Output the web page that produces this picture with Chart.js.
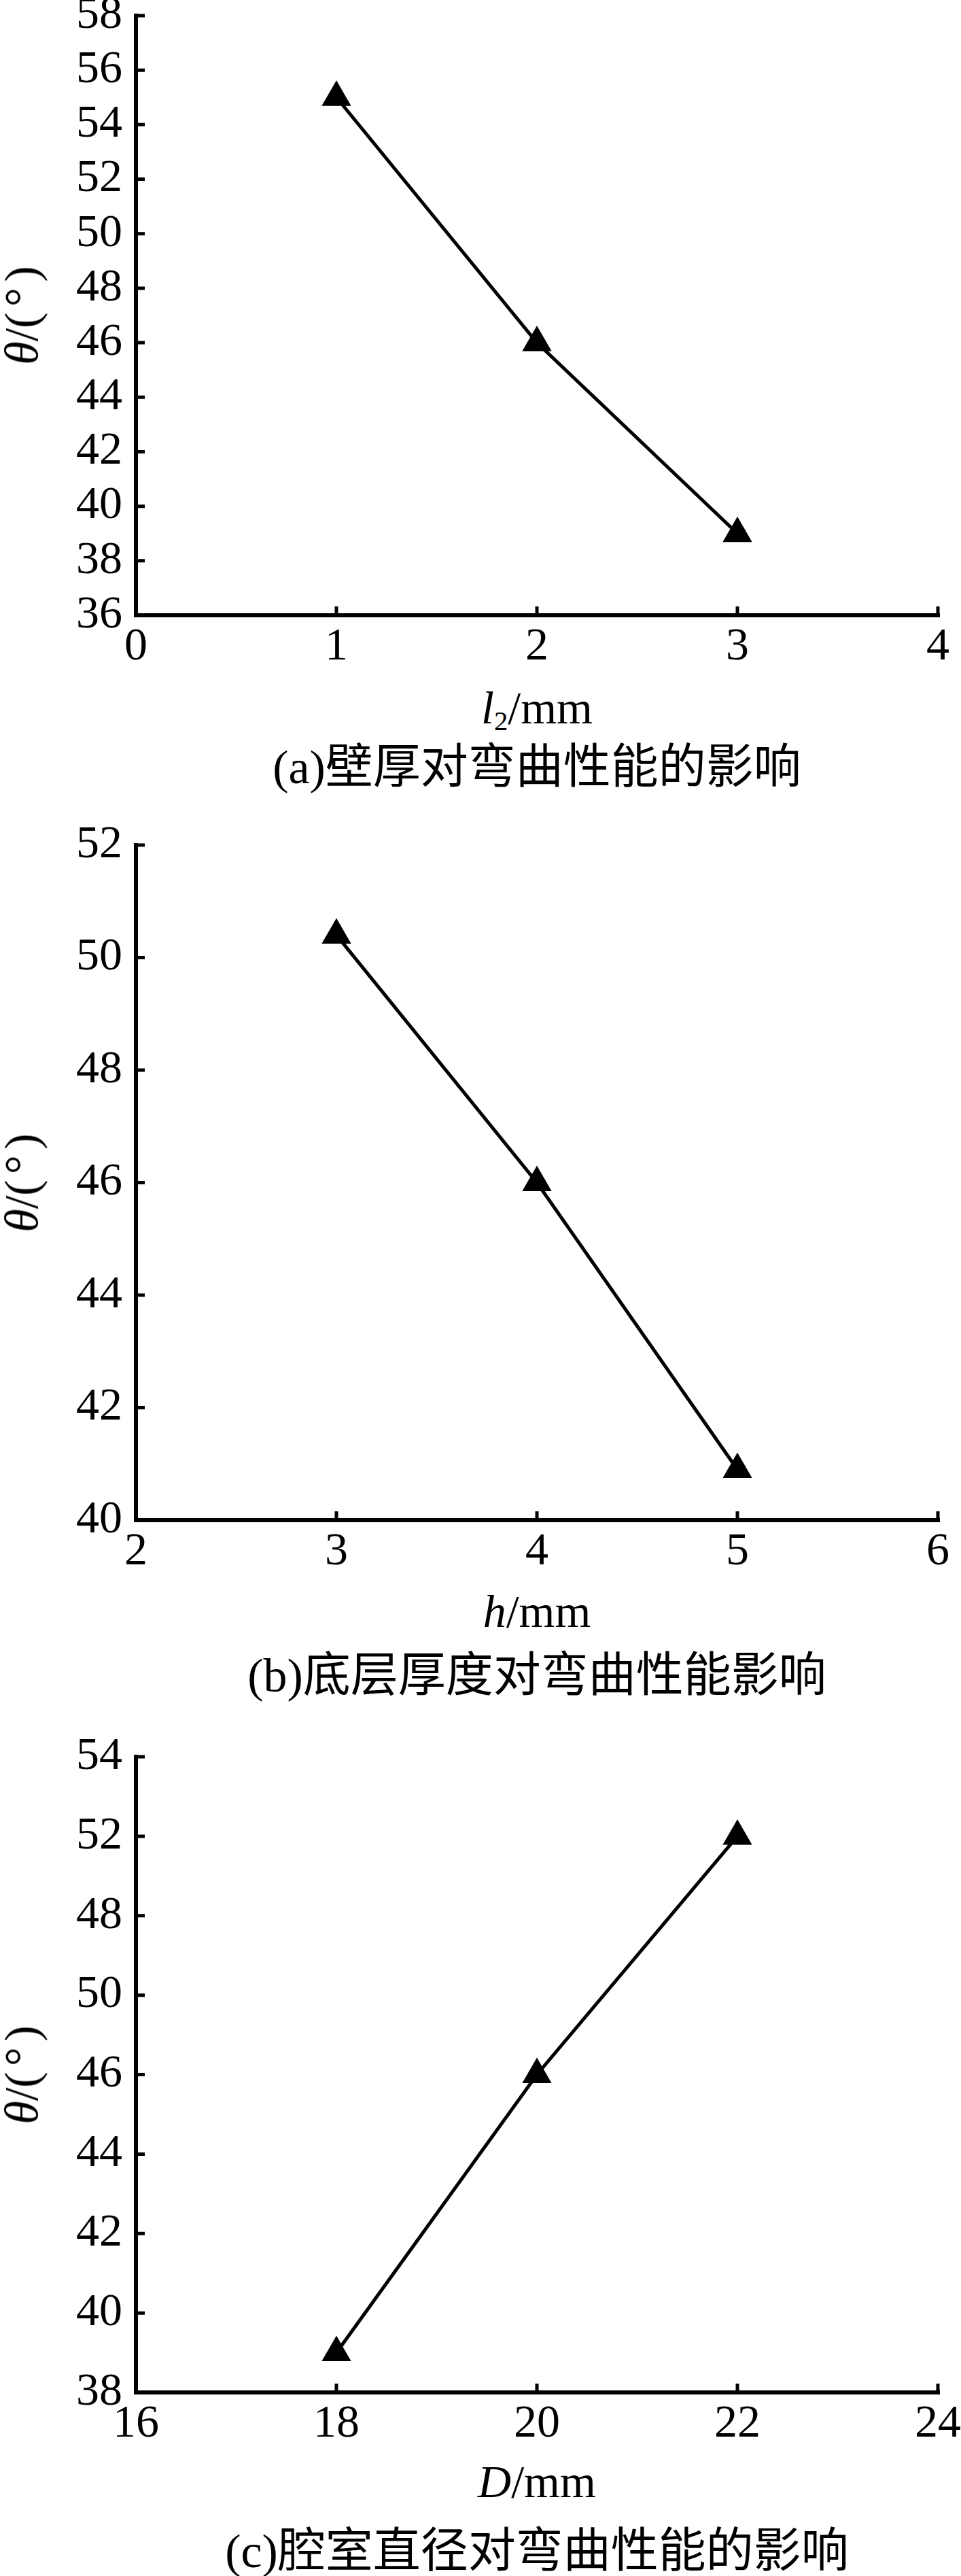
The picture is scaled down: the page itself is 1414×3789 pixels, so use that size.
<!DOCTYPE html>
<html>
<head>
<meta charset="utf-8">
<script src="https://cdn.jsdelivr.net/npm/chart.js@4.4.1/dist/chart.umd.min.js"></script>
<style>
  html, body { margin: 0; padding: 0; background: #fff; }
  body { position: relative; width: 1414px; height: 3789px; overflow: hidden; }
  canvas { position: absolute; left: 0; }
  .t { position: absolute; transform: translate(-50%, -50%); white-space: nowrap;
       font-family: "Liberation Serif", "Times New Roman", serif; font-size: 68px; color: #000; line-height: 1; }
  .cap { font-size: 70px; font-family: "Liberation Serif", "Noto Sans CJK SC", serif; }
  .ylab { transform: translate(-50%, -50%) rotate(-90deg); font-size: 70px; }
  .deg { padding: 0 0.12em; }
  i { font-style: italic; }
  sub { font-size: 0.6em; vertical-align: -0.25em; }
</style>
</head>
<body>
<canvas id="chartA" width="1414" height="1027" style="top:-27px"></canvas>
<canvas id="chartB" width="1414" height="1138" style="top:1193px"></canvas>
<canvas id="chartC" width="1414" height="1080" style="top:2534px"></canvas>

<div class="t ylab" style="left:32px; top:464px"><i>θ</i>/(<span class="deg">°</span>)</div>
<div class="t" style="left:790px; top:1044px"><i>l</i><sub>2</sub>/mm</div>
<div class="t cap" style="left:790px; top:1129px">(a)壁厚对弯曲性能的影响</div>

<div class="t ylab" style="left:32px; top:1740px"><i>θ</i>/(<span class="deg">°</span>)</div>
<div class="t" style="left:790px; top:2370px"><i>h</i>/mm</div>
<div class="t cap" style="left:790px; top:2465px">(b)底层厚度对弯曲性能影响</div>

<div class="t ylab" style="left:32px; top:3052px"><i>θ</i>/(<span class="deg">°</span>)</div>
<div class="t" style="left:790px; top:3650px"><i>D</i>/mm</div>
<div class="t cap" style="left:790px; top:3753px">(c)腔室直径对弯曲性能的影响</div>

<script>
// (a) wall thickness
const wallThickness = [1, 2, 3];
const thetaWall = [55, 46, 39];
const yTicksA = ['36', '38', '40', '42', '44', '46', '48', '50', '52', '54', '56', '58'];
const xTicksA = ['0', '1', '2', '3', '4'];

// (b) bottom layer thickness
const bottomThickness = [3, 4, 5];
const thetaBottom = [50.4, 46, 40.9];
const yTicksB = ['40', '42', '44', '46', '48', '50', '52'];
const xTicksB = ['2', '3', '4', '5', '6'];

// (c) chamber diameter (tick labels as printed, 48/50 swapped)
const chamberDiameter = [18, 20, 22];
const thetaChamber = [39, 46, 52];
const yTicksC = ['38', '40', '42', '44', '46', '50', '48', '52', '54'];
const xTicksC = ['16', '18', '20', '22', '24'];

const tickFont = { family: "Liberation Serif", size: 68 };

// axes drawn with ticks pointing inward
const innerAxes = {
  id: 'innerAxes',
  beforeDatasetsDraw(chart) {
    const { ctx, chartArea: a, scales: { x, y } } = chart;
    ctx.save();
    ctx.strokeStyle = '#000';
    ctx.lineWidth = 6;
    ctx.lineCap = 'square';
    ctx.beginPath();
    ctx.moveTo(a.left, a.top);
    ctx.lineTo(a.left, a.bottom);
    ctx.lineTo(a.right, a.bottom);
    ctx.stroke();
    ctx.lineCap = 'butt';
    ctx.lineWidth = 5;
    ctx.beginPath();
    y.ticks.forEach(t => {
      const py = y.getPixelForValue(t.value);
      ctx.moveTo(a.left, py);
      ctx.lineTo(a.left + 13, py);
    });
    x.ticks.forEach(t => {
      const px = x.getPixelForValue(t.value);
      ctx.moveTo(px, a.bottom);
      ctx.lineTo(px, a.bottom - 13);
    });
    ctx.stroke();
    ctx.restore();
  }
};

function makeChart(id, xs, ys, xMin, xMax, xStep, xLabels, yMin, yMax, yLabels) {
  return new Chart(document.getElementById(id), {
    type: 'scatter',
    data: {
      datasets: [{
        data: xs.map((v, i) => ({ x: v, y: ys[i] })),
        showLine: true,
        borderColor: '#000',
        borderWidth: 5,
        pointStyle: 'triangle',
        pointRadius: 25,
        pointHoverRadius: 25,
        pointBackgroundColor: '#000',
        pointBorderColor: '#000',
        pointBorderWidth: 0,
        clip: false
      }]
    },
    options: {
      responsive: false,
      animation: false,
      layout: { padding: { top: 50, right: 34, left: 0, bottom: 0 } },
      plugins: { legend: { display: false }, tooltip: { enabled: false } },
      scales: {
        x: {
          type: 'linear', min: xMin, max: xMax,
          grid: { display: false, drawTicks: false },
          border: { display: false },
          ticks: {
            stepSize: xStep, autoSkip: false, color: '#000', font: tickFont, padding: 6, maxRotation: 0,
            callback: (v, i) => xLabels[i]
          },
          afterFit(s) { s.height = 95; s.paddingLeft = 0; s.paddingRight = 0; s.paddingTop = 0; s.paddingBottom = 0; }
        },
        y: {
          type: 'linear', min: yMin, max: yMax,
          grid: { display: false, drawTicks: false },
          border: { display: false },
          ticks: {
            stepSize: 2, autoSkip: false, color: '#000', font: tickFont, padding: 20,
            callback: (v, i) => yLabels[i]
          },
          afterFit(s) { s.width = 200; s.paddingLeft = 0; s.paddingRight = 0; s.paddingTop = 0; s.paddingBottom = 0; }
        }
      }
    },
    plugins: [innerAxes]
  });
}

makeChart('chartA', wallThickness, thetaWall, 0, 4, 1, xTicksA, 36, 58, yTicksA);
makeChart('chartB', bottomThickness, thetaBottom, 2, 6, 1, xTicksB, 40, 52, yTicksB);
makeChart('chartC', chamberDiameter, thetaChamber, 16, 24, 2, xTicksC, 38, 54, yTicksC);
</script>
</body>
</html>
